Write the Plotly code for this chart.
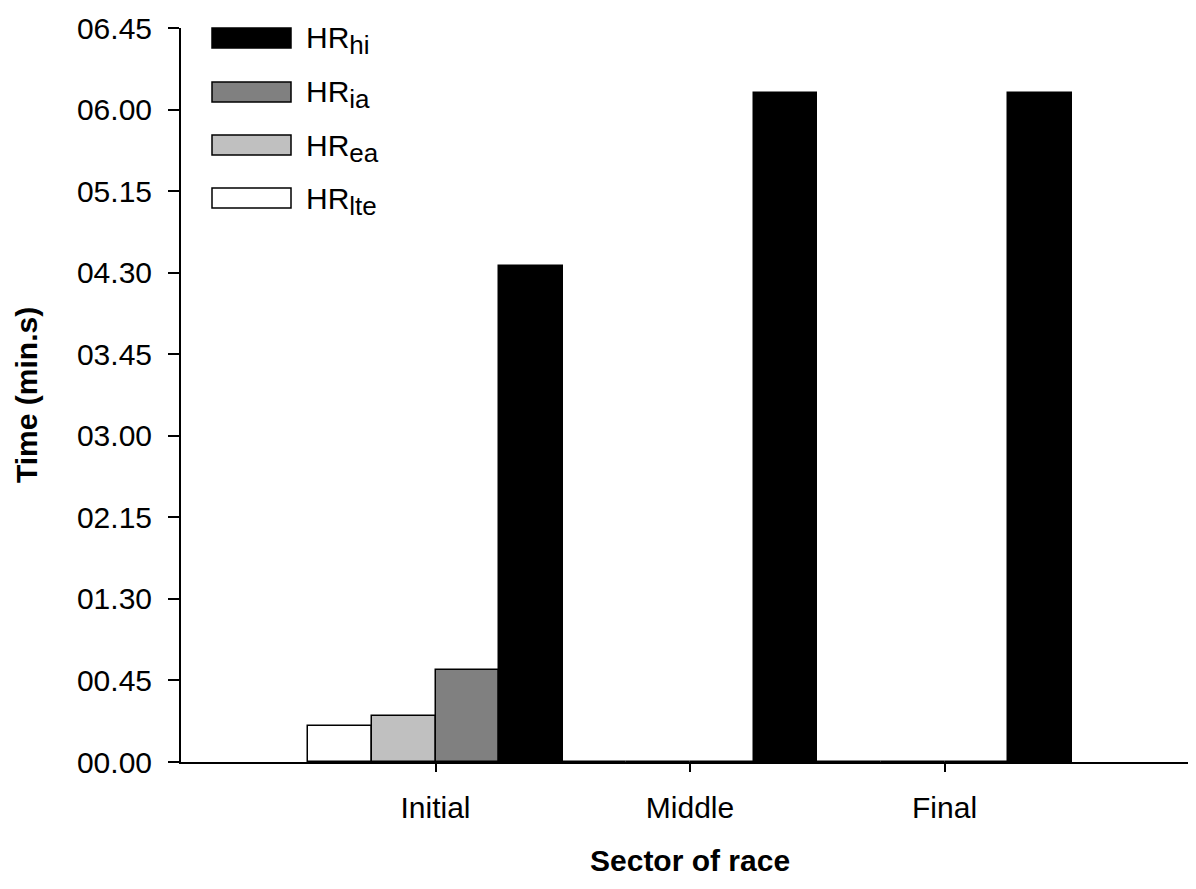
import plotly.graph_objects as go

categories = ["Initial", "Middle", "Final"]
series_main = ["HR", "HR", "HR", "HR"]
series_subs = ["lte", "ea", "ia", "hi"]
# values in seconds
hr_lte = [20, 0, 0]
hr_ea = [25.5, 0, 0]
hr_ia = [50.5, 0, 0]
hr_hi = [273.5, 369, 369]
series_colors = ["#ffffff", "#c0c0c0", "#808080", "#000000"]
ytick_vals = [0, 45, 90, 135, 180, 225, 270, 315, 360, 405]
ytick_text = ["00.00", "00.45", "01.30", "02.15", "03.00", "03.45", "04.30", "05.15", "06.00", "06.45"]

FONT = "Liberation Sans, Arial, sans-serif"
FS = 30

PLOT_L, PLOT_T, PLOT_B, PLOT_R = 181, 28, 762, 1196
PW = PLOT_R - PLOT_L
PH = PLOT_B - PLOT_T


def px_x(x):
    return (x - PLOT_L) / PW


def px_y(y):
    return (PLOT_B - y) / PH


series_names = [f"{m}<sub>{s}</sub>" for m, s in zip(series_main, series_subs)]

fig = go.Figure()
xpos = list(range(len(categories)))
for name, vals, col in zip(series_names, [hr_lte, hr_ea, hr_ia, hr_hi], series_colors):
    fig.add_trace(go.Bar(x=xpos, y=vals, name=name,
                         marker=dict(color=col, line=dict(color="black", width=1.5)),
                         showlegend=False))

# manual legend (top to bottom: hi, ia, ea, lte)
leg_order = [3, 2, 1, 0]
row_y = [38, 92, 145, 198]
for ry, idx in zip(row_y, leg_order):
    fig.add_shape(type="rect", xref="paper", yref="paper",
                  x0=px_x(212), x1=px_x(291), y0=px_y(ry + 10), y1=px_y(ry - 10),
                  fillcolor=series_colors[idx], line=dict(color="black", width=1.5))
    label = f"{series_main[idx]}<sub><span style='font-size:26px'>{series_subs[idx]}</span></sub>"
    fig.add_annotation(xref="paper", yref="paper", x=px_x(304), y=px_y(ry + 3),
                       text=label, showarrow=False, xanchor="left", yanchor="middle",
                       font=dict(family=FONT, size=FS, color="black"))

# axis titles
fig.add_annotation(xref="paper", yref="paper", x=px_x(690), y=px_y(860),
                   text="<b>Sector of race</b>", showarrow=False, xanchor="center", yanchor="middle",
                   font=dict(family=FONT, size=FS, color="black"))
fig.add_annotation(xref="paper", yref="paper", x=px_x(26), y=0.5, textangle=-90,
                   text="<b>Time (min.s)</b>", showarrow=False, xanchor="center", yanchor="middle",
                   font=dict(family=FONT, size=FS, color="black"))

fig.update_layout(
    width=1196 - 8, height=889 - 8,
    margin=dict(l=PLOT_L - 8, r=0, t=PLOT_T - 8, b=889 - PLOT_B),
    plot_bgcolor="white", paper_bgcolor="white",
    barmode="group", bargap=0, bargroupgap=0,
    font=dict(family=FONT, size=FS, color="black"),
    xaxis=dict(range=[-1, 2.988], tickvals=xpos, ticktext=categories, showline=True, linecolor="black",
               linewidth=2, ticks="outside", ticklen=8, tickwidth=2, tickcolor="black", showgrid=False,
               zeroline=False, ticklabelstandoff=10),
    yaxis=dict(range=[0, 405], tickvals=ytick_vals, ticktext=ytick_text, showline=True, linecolor="black",
               linewidth=2, ticks="outside", ticklen=11, tickwidth=2, tickcolor="black", showgrid=False,
               zeroline=False, ticklabelstandoff=10),
)

fig.write_html("out.html")
